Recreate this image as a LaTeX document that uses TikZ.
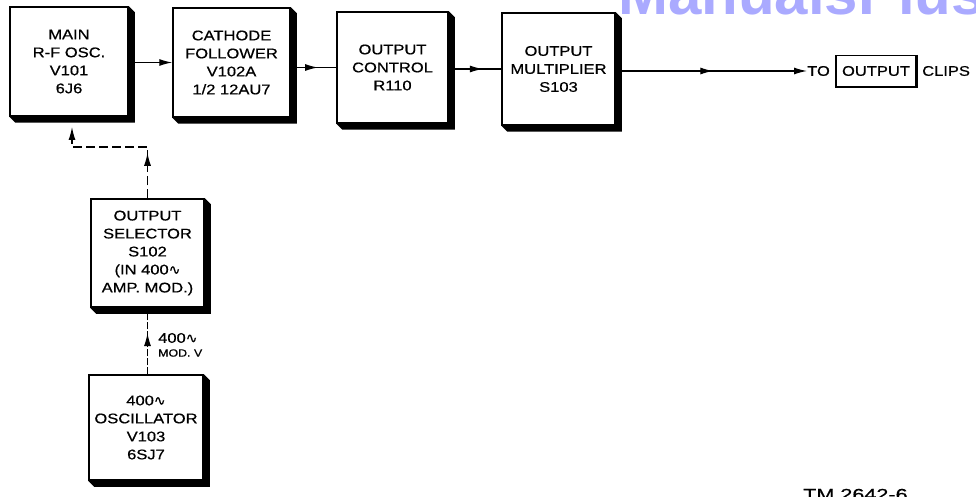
\documentclass[tikz,border=0pt]{standalone}
\usepackage{fontspec}
\setmainfont{Liberation Sans}
\newfontfamily\boxfont{Liberation Sans}[FakeStretch=1.18,FakeBold=0.6]
\newfontfamily\tmfont{Liberation Sans}[FakeStretch=1.35,FakeBold=0.6]
\newfontfamily\wavefont{DejaVu Sans}[FakeBold=0.6]
\usetikzlibrary{arrows.meta,decorations.markings,calc}
\newcommand\wv{{\wavefont\char"223F}}
\definecolor{wmblue}{RGB}{170,170,255}
\newcommand\blkshadow[1]{%
  \fill[black] (#1.north east) -- ++(6,6) -- ($(#1.south east)+(6,6)$) -- ($(#1.south west)+(6,6)$) -- (#1.south west) -- (#1.south east) -- cycle;}
\tikzset{
  >={Latex[length=13pt,width=7pt]},
  blk/.style={draw, line width=1.5pt, fill=white, inner sep=0pt, align=center,
    font=\boxfont\fontsize{14}{18}\selectfont},
  conn/.style={line width=1.2pt},
  lbl/.style={inner sep=0pt, font=\boxfont\fontsize{14}{18}\selectfont},
  midarrow/.style={postaction={decorate}, decoration={markings, mark=at position #1 with {\arrow{>}}}},
  fbdash/.style={dash pattern=on 9pt off 4pt},
  moddash/.style={dash pattern=on 7pt off 2pt}
}
\begin{document}
\begin{tikzpicture}[x=1pt,y=-1pt]
\useasboundingbox (0,0) rectangle (976,497);
% watermark
\node[anchor=base west, inner sep=0pt, text=wmblue, font=\fontsize{60}{60}\selectfont\bfseries] (wm) at (618,15) {ManualsPlus};
% blocks
\node[blk, minimum width=118pt, minimum height=109pt] (main) at (69,61.5) {MAIN\\R-F OSC.\\V101\\6J6};
\node[blk, minimum width=117pt, minimum height=109pt] (cath) at (231.5,62.5) {CATHODE\\FOLLOWER\\V102A\\1/2 12AU7};
\node[blk, minimum width=111pt, minimum height=111pt] (ctrl) at (392.5,67.5) {OUTPUT\\CONTROL\\R110};
\node[blk, minimum width=113pt, minimum height=112pt] (mult) at (558.5,69) {OUTPUT\\MULTIPLIER\\S103};
\node[blk, minimum width=113pt, minimum height=108pt] (sel) at (147.5,253) {OUTPUT\\SELECTOR\\S102\\(IN 400\wv\\AMP. MOD.)};
\node[blk, minimum width=114pt, minimum height=105pt] (osc) at (146,427.5) {400\wv\\OSCILLATOR\\V103\\6SJ7};
\blkshadow{main}
\blkshadow{cath}
\blkshadow{ctrl}
\blkshadow{mult}
\blkshadow{sel}
\blkshadow{osc}
% output text
\node[lbl, anchor=west] (to) at (807,71) {TO};
\node[lbl, draw, line width=1.1pt, minimum width=80pt, minimum height=31pt] (outbox) at (876,71) {OUTPUT};
\draw[line width=2pt] (outbox.north east) -- (outbox.south east) -- (outbox.south west);
\node[lbl, anchor=west] (clips) at (922,71) {CLIPS};
% connectors
\draw[conn,->] (main.east |- cath.west) -- (cath.west);
\draw[conn, midarrow=0.6] (cath.east |- ctrl.west) -- (ctrl.west);
\draw[conn, midarrow=0.65] (ctrl.east |- mult.west) -- (mult.west);
\draw[conn, midarrow=0.51, ->] (mult.east |- to.west) -- (to.west);
% feedback dashed
\coordinate (fb1) at (147.5,147);
\coordinate (fb2) at (72,147);
\coordinate (fb3) at (72,127);
\draw[conn, fbdash, midarrow=0.31, ->] (sel.north) -- (fb1) -- (fb2) -- (fb3);
% modulation
\draw[conn, moddash, midarrow=0.62] (osc.north -| sel.south) -- (sel.south);
\node[inner sep=0pt, anchor=west, font=\boxfont\fontsize{14}{16}\selectfont] (mod1) at (158,338) {400\wv};
\node[inner sep=0pt, anchor=west, font=\boxfont\fontsize{10.5}{12}\selectfont] (mod2) at (158,353) {MOD. V};
% figure number
\node[anchor=base west, inner sep=0pt, font=\tmfont\fontsize{16}{16}\selectfont] (tm) at (803,500) {TM 2642-6};
\end{tikzpicture}
\end{document}
